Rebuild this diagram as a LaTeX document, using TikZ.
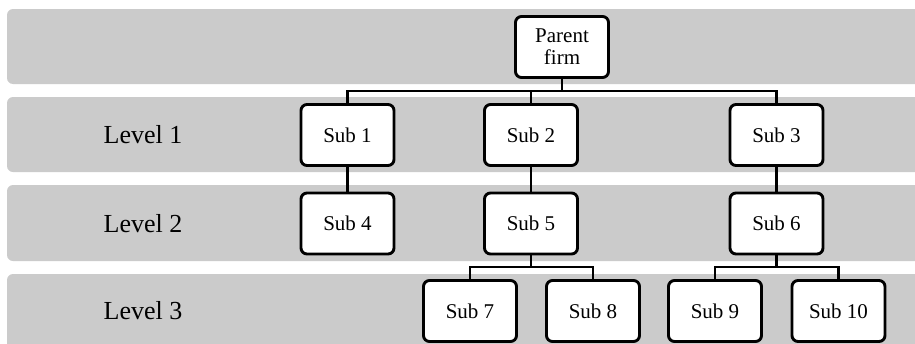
\documentclass[tikz,border=0pt]{standalone}
\usepackage{fontspec}
\setmainfont{Liberation Serif}
\begin{document}
\begin{tikzpicture}[x=1pt,y=-1pt,
  band/.style={fill=bandgray,draw=none,rounded corners=6pt},
  firm/.style={draw=black,fill=white,line width=2.9pt,rounded corners=6pt,
    minimum width=93pt,minimum height=61pt,inner sep=0pt,align=center,
    font=\fontsize{21}{22}\selectfont},
  lvl/.style={font=\fontsize{26}{28}\selectfont,inner sep=0pt},
  conn/.style={draw=black,line width=2.9pt}]
\definecolor{bandgray}{HTML}{CBCBCB}
\useasboundingbox (0,0) rectangle (915,343);
\clip (0,0) rectangle (915,343);
% bands
\fill[band] (7,9) rectangle (940,84);
\fill[band] (7,97) rectangle (940,172);
\fill[band] (7,185) rectangle (940,261);
\fill[band] (7,274) rectangle (940,360);
% level labels
\node[lvl] (l1) at (143,135) {Level 1};
\node[lvl] (l2) at (143,223.5) {Level 2};
\node[lvl] (l3) at (143,311) {Level 3};
% connectors coordinates
\coordinate (b0) at (562,91);
\coordinate (b5) at (531,267);
\coordinate (b6) at (776.5,267);
% boxes
\node[firm] (parent) at (562,47) {Parent\\firm};
\node[firm] (s1) at (347.5,135) {Sub 1};
\node[firm] (s2) at (531,135) {Sub 2};
\node[firm] (s3) at (776.5,135) {Sub 3};
\node[firm] (s4) at (347.5,223.5) {Sub 4};
\node[firm] (s5) at (531,223.5) {Sub 5};
\node[firm] (s6) at (776.5,223.5) {Sub 6};
\node[firm] (s7) at (470,311) {Sub 7};
\node[firm] (s8) at (593,311) {Sub 8};
\node[firm] (s9) at (715,311) {Sub 9};
\node[firm] (s10) at (838.5,311) {Sub 10};
% connectors
\draw[conn] (parent.south) -- (b0);
\draw[conn] (s1.north) |- (b0) -| (s3.north);
\draw[conn] (b0) -| (s2.north);
\draw[conn] (s1.south) -- (s4.north);
\draw[conn] (s2.south) -- (s5.north);
\draw[conn] (s3.south) -- (s6.north);
\draw[conn] (s5.south) -- (b5);
\draw[conn] (s7.north) |- (b5) -| (s8.north);
\draw[conn] (s6.south) -- (b6);
\draw[conn] (s9.north) |- (b6) -| (s10.north);
\end{tikzpicture}
\end{document}
